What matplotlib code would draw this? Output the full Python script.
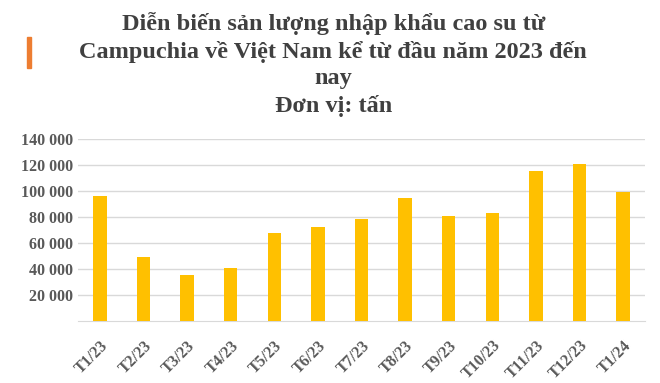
import matplotlib
matplotlib.use("Agg")
import matplotlib.pyplot as plt
from matplotlib.patches import Rectangle
from matplotlib.ticker import FuncFormatter

# data (tonnes)
months = ['T1/23', 'T2/23', 'T3/23', 'T4/23', 'T5/23', 'T6/23', 'T7/23',
          'T8/23', 'T9/23', 'T10/23', 'T11/23', 'T12/23', 'T1/24']
volumes = [96300, 49300, 35400, 41000, 67800, 72400, 78600,
           94800, 80900, 83200, 115600, 121000, 99400]
yticks = [20000, 40000, 60000, 80000, 100000, 120000, 140000]

title = ("Diễn biến sản lượng nhập khẩu cao su từ\n"
         "Campuchia về Việt Nam kể từ đầu năm 2023 đến\n"
         "nay\n"
         "Đơn vị: tấn")

plt.rcParams['font.family'] = ['Liberation Serif', 'DejaVu Serif']
text_color = '#595959'

fig = plt.figure(figsize=(6.6, 3.83), dpi=100)
ax = fig.add_axes([78 / 660, 1 - 321 / 383, 567 / 660, 182 / 383])

x = range(len(months))
ax.bar(x, volumes, width=0.31, color='#FFC000', zorder=3)

ax.set_xlim(-0.5, len(months) - 0.5)
ax.set_ylim(0, 140000)
ax.set_yticks(yticks)
ax.yaxis.set_major_formatter(FuncFormatter(lambda v, p: f"{int(v):,}".replace(',', ' ')))
ax.grid(axis='y', color='#d9d9d9', linewidth=1, zorder=0)
ax.set_xticks(list(x))
ax.set_xticklabels(months, rotation=45, ha='right', rotation_mode='anchor')

for s in ['top', 'right', 'left']:
    ax.spines[s].set_visible(False)
ax.spines['bottom'].set_color('#d9d9d9')
ax.tick_params(axis='both', length=0, colors=text_color, labelsize=11.5)
ax.tick_params(axis='x', pad=12)
for lab in ax.get_xticklabels() + ax.get_yticklabels():
    lab.set_fontweight('bold')

fig.text(0.505, 1 - 12 / 383, title, ha='center', va='top', fontsize=17.5,
         fontweight='bold', color='#404040', linespacing=1.34)

# orange accent mark beside the title
fig.patches.append(Rectangle((27 / 660, 1 - 68 / 383), 4 / 660, 31 / 383,
                             transform=fig.transFigure, color='#ED7D31'))

fig.savefig('out.png', dpi=100)
